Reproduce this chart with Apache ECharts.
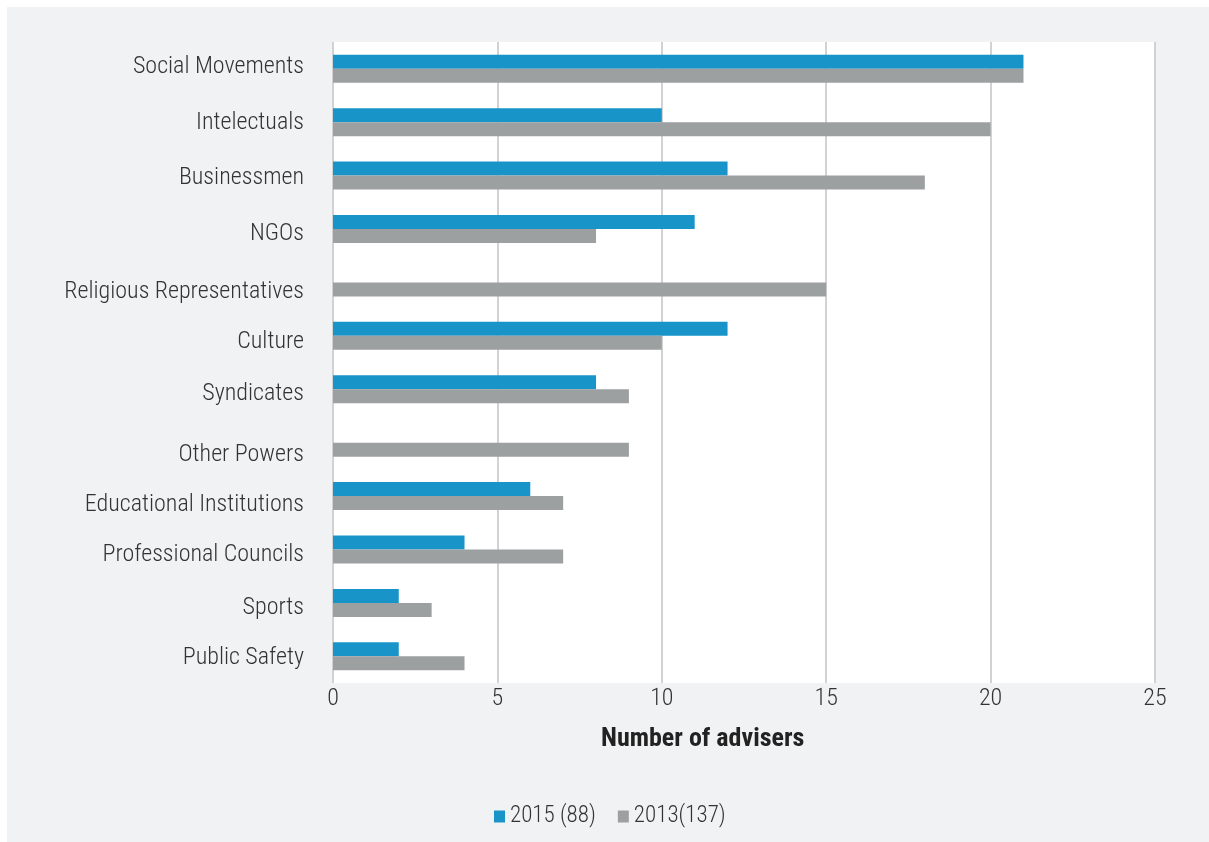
<!DOCTYPE html>
<html>
<head>
<meta charset="utf-8">
<script src="https://cdn.jsdelivr.net/npm/echarts@6/dist/echarts.min.js"></script>
<style>
  html, body { margin: 0; padding: 0; background: #ffffff; }
  #panel { position: absolute; left: 7px; top: 7px; width: 1202px; height: 835px; background: #f1f2f4; }
  #chart { position: absolute; left: 0; top: 0; width: 1209px; height: 842px; }
</style>
</head>
<body>
<div id="panel"></div>
<div id="chart"></div>
<script>
// ---- data ----
const categories = [
  'Social Movements', 'Intelectuals', 'Businessmen', 'NGOs',
  'Religious Representatives', 'Culture', 'Syndicates', 'Other Powers',
  'Educational Institutions', 'Professional Councils', 'Sports', 'Public Safety'
];
const values2015 = [21, 10, 12, 11, null, 12, 8, null, 6, 4, 2, 2];
const values2013 = [21, 20, 18, 8, 15, 10, 9, 9, 7, 7, 3, 4];
const seriesNames = ['2015 (88)', '2013(137)'];
const xTicks = [0, 5, 10, 15, 20, 25];
const axisTitle = 'Number of advisers';

// ---- styling ----
const FONT = '"Roboto Condensed", Roboto, "Liberation Sans", sans-serif';
const TEXT = '#333333';
const BLUE = '#1894c9';
const GRAY = '#9da0a1';
const LBL = 24;
// vertical nudge (px) of each category label, as in the reference layout
const labelShift = {
  'Social Movements': -2, 'Intelectuals': 1, 'Businessmen': 2, 'NGOs': 5,
  'Religious Representatives': 10, 'Culture': 6, 'Syndicates': 5, 'Other Powers': 12,
  'Educational Institutions': 9, 'Professional Councils': 6, 'Sports': 5, 'Public Safety': 2
};
const shiftKeys = Object.keys(labelShift);
const rich = {};
shiftKeys.forEach(function (k, i) {
  const d = labelShift[k];
  rich['s' + i] = {
    fontFamily: FONT, fontSize: LBL, fontWeight: 300, color: TEXT,
    padding: d >= 0 ? [2 * d, 0, 0, 0] : [0, 0, -2 * d, 0]
  };
});

const chart = echarts.init(document.getElementById('chart'));
chart.setOption({
  animation: false,
  backgroundColor: 'transparent',
  title: {
    text: axisTitle,
    left: 601,
    top: 726,
    padding: 0,
    textStyle: { fontFamily: FONT, fontSize: 26, fontWeight: 'bold', color: '#222' }
  },
  legend: {
    data: seriesNames,
    left: 489,
    top: 800,
    icon: 'rect',
    itemWidth: 11,
    itemHeight: 12,
    itemGap: 22,
    textStyle: { fontFamily: FONT, fontSize: 23, fontWeight: 300, color: TEXT }
  },
  grid: {
    left: 333, right: 54, top: 42, bottom: 159,
    show: true, backgroundColor: '#ffffff', borderWidth: 0,
    containLabel: false
  },
  xAxis: {
    type: 'value',
    min: xTicks[0],
    max: xTicks[xTicks.length - 1],
    interval: xTicks[1] - xTicks[0],
    axisLine: { show: false },
    axisTick: { show: false },
    splitLine: { show: true, lineStyle: { color: '#d2d2d2', width: 2 } },
    axisLabel: { fontFamily: FONT, fontSize: LBL, fontWeight: 300, color: TEXT, margin: 4 }
  },
  yAxis: {
    type: 'category',
    data: categories,
    inverse: true,
    axisLine: { show: false },
    axisTick: { show: false },
    splitLine: { show: false },
    axisLabel: {
      fontFamily: FONT, fontSize: LBL, fontWeight: 300, color: TEXT, margin: 29,
      rich: rich,
      formatter: function (v) {
        const i = shiftKeys.indexOf(v);
        return i >= 0 ? '{s' + i + '|' + v + '}' : v;
      }
    }
  },
  series: [
    {
      name: seriesNames[0], type: 'bar', data: values2015,
      barWidth: 14, barGap: '0%',
      itemStyle: { color: BLUE }
    },
    {
      name: seriesNames[1], type: 'bar', data: values2013,
      barWidth: 14, barGap: '0%',
      itemStyle: { color: GRAY }
    }
  ]
});
</script>
</body>
</html>
